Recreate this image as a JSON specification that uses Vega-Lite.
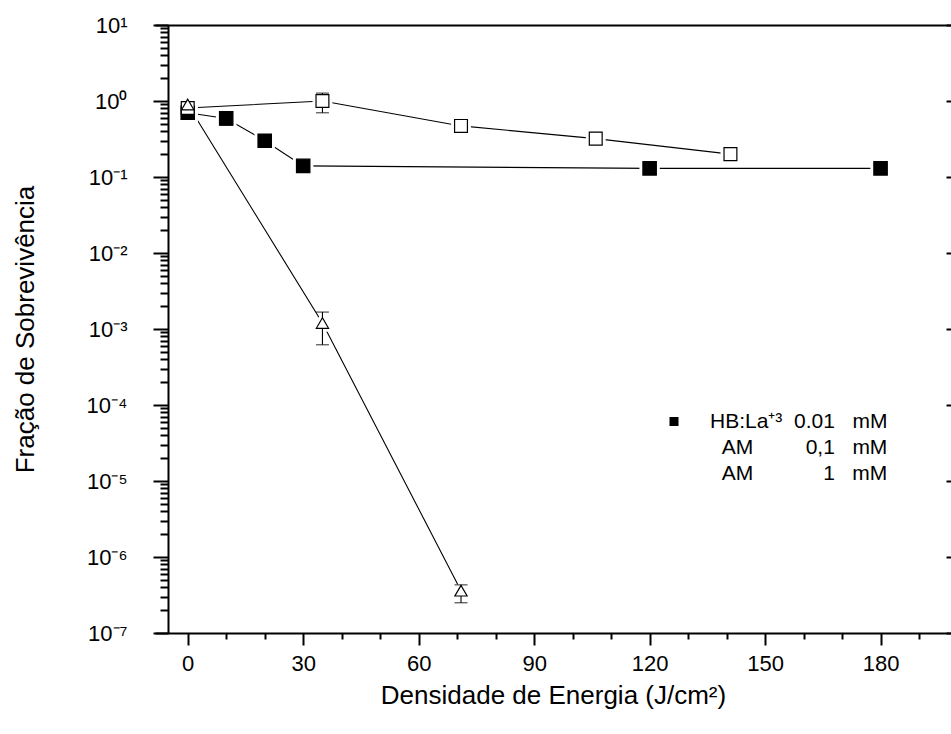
{
  "$schema": "https://vega.github.io/schema/vega-lite/v6.json",
  "width": 796,
  "height": 608,
  "autosize": {"type": "none"},
  "padding": {"left": 155, "top": 25, "right": 0, "bottom": 101},
  "config": {
    "view": {"stroke": null},
    "font": "Liberation Sans",
    "axis": {"domainColor": "black", "tickColor": "black", "labelColor": "black", "titleColor": "black", "grid": false, "labelFont": "Liberation Sans", "titleFont": "Liberation Sans", "titleFontWeight": "normal"}
  },
  "data": {
    "values": [
      {"s": "HB", "x": 0, "y": 0.70, "lo": 0.66, "hi": 0.75},
      {"s": "HB", "x": 10, "y": 0.59, "lo": 0.48, "hi": 0.66},
      {"s": "HB", "x": 20, "y": 0.30, "lo": 0.28, "hi": 0.32},
      {"s": "HB", "x": 30, "y": 0.14, "lo": 0.13, "hi": 0.15},
      {"s": "HB", "x": 120, "y": 0.13, "lo": 0.12, "hi": 0.14},
      {"s": "HB", "x": 180, "y": 0.13, "lo": 0.12, "hi": 0.14},
      {"s": "AM01", "x": 0, "y": 0.81, "lo": 0.74, "hi": 0.88},
      {"s": "AM01", "x": 35, "y": 1.0, "lo": 0.70, "hi": 1.27},
      {"s": "AM01", "x": 71, "y": 0.47, "lo": 0.39, "hi": 0.56},
      {"s": "AM01", "x": 106, "y": 0.32, "lo": 0.27, "hi": 0.38},
      {"s": "AM01", "x": 141, "y": 0.20, "lo": 0.167, "hi": 0.24},
      {"s": "AM1", "x": 0, "y": 0.90, "lo": 0.82, "hi": 0.98},
      {"s": "AM1", "x": 35, "y": 0.0012, "lo": 0.00062, "hi": 0.00167},
      {"s": "AM1", "x": 71, "y": 3.6e-7, "lo": 2.5e-7, "hi": 4.3e-7}
    ]
  },
  "layer": [
    {
      "mark": {"type": "line", "color": "black", "strokeWidth": 1.1},
      "encoding": {
        "x": {"field": "x", "type": "quantitative", "scale": {"domain": [-8.5, 198.3], "nice": false, "zero": false},
          "axis": {"orient": "bottom", "values": [0, 30, 60, 90, 120, 150, 180], "tickSize": 12, "tickWidth": 2, "domainWidth": 2, "labelFontSize": 22, "labelPadding": 8, "title": "Densidade de Energia (J/cm²)", "titleFontSize": 26, "titleY": 70, "titleBaseline": "alphabetic"}},
        "y": {"field": "y", "type": "quantitative", "scale": {"type": "log", "domain": [1e-7, 10], "nice": false},
          "axis": {"orient": "left", "offset": -13, "values": [1e-7, 1e-6, 1e-5, 1e-4, 1e-3, 1e-2, 1e-1, 1, 10], "tickSize": 15, "tickWidth": 2, "domainWidth": 2, "labelFontSize": 22, "labelPadding": 26,
            "labelExpr": "'10' + (round(log(datum.value)/LN10) < 0 ? '⁻' : '') + substring('⁰¹²³⁴⁵⁶⁷⁸⁹', abs(round(log(datum.value)/LN10)), abs(round(log(datum.value)/LN10)) + 1)",
            "title": "Fração de Sobrevivência", "titleFontSize": 26, "titleX": -135, "titleY": 304, "titleBaseline": "alphabetic", "titleAngle": 270}},
        "detail": {"field": "s"}
      }
    },
    {
      "mark": {"type": "point", "filled": true, "fill": "white", "stroke": "white", "strokeWidth": 7, "opacity": 1},
      "encoding": {
        "x": {"field": "x", "type": "quantitative", "scale": {"domain": [-8.5, 198.3], "nice": false, "zero": false},
          "axis": {"orient": "bottom", "values": [10, 20, 40, 50, 70, 80, 100, 110, 130, 140, 160, 170, 190], "tickSize": 6, "tickWidth": 2, "domain": false, "labels": false, "title": null}},
        "y": {"field": "y", "type": "quantitative", "scale": {"type": "log", "domain": [1e-7, 10], "nice": false},
          "axis": {"orient": "left", "offset": -13, "values": [2e-7, 3e-7, 4e-7, 5e-7, 6e-7, 7e-7, 8e-7, 9e-7, 2e-6, 3e-6, 4e-6, 5e-6, 6e-6, 7e-6, 8e-6, 9e-6, 2e-5, 3e-5, 4e-5, 5e-5, 6e-5, 7e-5, 8e-5, 9e-5, 2e-4, 3e-4, 4e-4, 5e-4, 6e-4, 7e-4, 8e-4, 9e-4, 0.002, 0.003, 0.004, 0.005, 0.006, 0.007, 0.008, 0.009, 0.02, 0.03, 0.04, 0.05, 0.06, 0.07, 0.08, 0.09, 0.2, 0.3, 0.4, 0.5, 0.6, 0.7, 0.8, 0.9, 2, 3, 4, 5, 6, 7, 8, 9], "tickSize": 8, "tickWidth": 2, "domain": false, "labels": false, "title": null}},
        "shape": {"field": "s", "type": "nominal", "scale": {"domain": ["HB", "AM01", "AM1"], "range": ["square", "square", "triangle-up"]}, "legend": null},
        "size": {"field": "s", "type": "nominal", "scale": {"domain": ["HB", "AM01", "AM1"], "range": [180, 150, 240]}, "legend": null}
      }
    },
    {
      "mark": {"type": "rule", "color": "black", "strokeWidth": 1.1},
      "encoding": {
        "x": {"field": "x", "type": "quantitative", "scale": {"domain": [-8.5, 198.3], "nice": false, "zero": false},
          "axis": {"orient": "top", "domainWidth": 2, "ticks": false, "labels": false, "title": null}},
        "y": {"field": "lo", "type": "quantitative", "scale": {"type": "log", "domain": [1e-7, 10], "nice": false},
          "axis": {"orient": "right", "offset": -5, "values": [1e-7, 1e-6, 1e-5, 1e-4, 1e-3, 1e-2, 1e-1, 1, 10], "tickSize": 5, "tickWidth": 2, "domain": false, "labels": false, "title": null}},
        "y2": {"field": "hi"}
      }
    },
    {
      "mark": {"type": "tick", "orient": "horizontal", "color": "black", "size": 13, "thickness": 1.2},
      "encoding": {
        "x": {"field": "x", "type": "quantitative", "scale": {"domain": [-8.5, 198.3], "nice": false, "zero": false}, "axis": null},
        "y": {"field": "lo", "type": "quantitative", "scale": {"type": "log", "domain": [1e-7, 10], "nice": false}, "axis": null}
      }
    },
    {
      "mark": {"type": "tick", "orient": "horizontal", "color": "black", "size": 13, "thickness": 1.2},
      "encoding": {
        "x": {"field": "x", "type": "quantitative", "scale": {"domain": [-8.5, 198.3], "nice": false, "zero": false}, "axis": null},
        "y": {"field": "hi", "type": "quantitative", "scale": {"type": "log", "domain": [1e-7, 10], "nice": false}, "axis": null}
      }
    },
    {
      "mark": {"type": "point", "filled": false, "opacity": 1, "stroke": "black", "strokeWidth": 1.2},
      "encoding": {
        "x": {"field": "x", "type": "quantitative", "scale": {"domain": [-8.5, 198.3], "nice": false, "zero": false}, "axis": null},
        "y": {"field": "y", "type": "quantitative", "scale": {"type": "log", "domain": [1e-7, 10], "nice": false}, "axis": null},
        "shape": {"field": "s", "type": "nominal", "scale": {"domain": ["HB", "AM01", "AM1"], "range": ["square", "square", "triangle-up"]}, "legend": null},
        "fill": {"field": "s", "type": "nominal", "scale": {"domain": ["HB", "AM01", "AM1"], "range": ["black", "white", "white"]}, "legend": null},
        "size": {"field": "s", "type": "nominal", "scale": {"domain": ["HB", "AM01", "AM1"], "range": [180, 150, 240]}, "legend": null}
      }
    },
    {
      "transform": [{"filter": "datum.x < -100"}],
      "mark": {"type": "point", "filled": true, "strokeWidth": 1.2, "size": 100},
      "encoding": {
        "x": {"field": "x", "type": "quantitative", "scale": {"domain": [-8.5, 198.3], "nice": false, "zero": false}, "axis": null},
        "y": {"field": "y", "type": "quantitative", "scale": {"type": "log", "domain": [1e-7, 10], "nice": false}, "axis": null},
        "shape": {"field": "s", "type": "nominal",
          "scale": {"domain": ["HB", "AM01", "AM1"], "range": ["M-1,0H2.4M5.6,0H8.8M3,-0.9H4.8V0.9H3Z", "M-1,0H2.4M5.6,0H8.8M3,-0.9H4.8V0.9H3Z", "M-1,0H2.4M5.6,0H8.8M3.9,-1.1L5.1,0.9L2.7,0.9Z"]},
          "legend": {"title": null, "orient": "none", "legendX": 489, "legendY": 386, "symbolSize": 100, "symbolStrokeWidth": 1.2, "symbolOpacity": 1, "labelFontSize": 21, "labelFont": "Liberation Sans", "labelColor": "black", "labelOffset": 45, "labelLimit": 400, "rowPadding": 4,
            "labelExpr": "datum.value === 'HB' ? 'HB:La⁺³\u00a0\u00a00.01\u00a0\u00a0\u00a0mM' : datum.value === 'AM01' ? '\u200b\u00a0\u00a0AM\u00a0\u00a0\u00a0\u00a0\u00a0\u00a0\u00a0\u00a0\u00a00,1\u00a0\u00a0\u00a0mM' : '\u200b\u00a0\u00a0AM\u00a0\u00a0\u00a0\u00a0\u00a0\u00a0\u00a0\u00a0\u00a0\u00a0\u00a0\u00a01\u00a0\u00a0\u00a0mM'"}},
        "fill": {"field": "s", "type": "nominal",
          "scale": {"domain": ["HB", "AM01", "AM1"], "range": ["black", "white", "white"]},
          "legend": {"title": null, "orient": "none", "legendX": 489, "legendY": 386, "symbolSize": 100, "symbolStrokeWidth": 1.2, "symbolOpacity": 1, "labelFontSize": 21, "labelFont": "Liberation Sans", "labelColor": "black", "labelOffset": 45, "labelLimit": 400, "rowPadding": 4,
            "labelExpr": "datum.value === 'HB' ? 'HB:La⁺³\u00a0\u00a00.01\u00a0\u00a0\u00a0mM' : datum.value === 'AM01' ? '\u200b\u00a0\u00a0AM\u00a0\u00a0\u00a0\u00a0\u00a0\u00a0\u00a0\u00a0\u00a00,1\u00a0\u00a0\u00a0mM' : '\u200b\u00a0\u00a0AM\u00a0\u00a0\u00a0\u00a0\u00a0\u00a0\u00a0\u00a0\u00a0\u00a0\u00a0\u00a01\u00a0\u00a0\u00a0mM'"}},
        "stroke": {"field": "s", "type": "nominal",
          "scale": {"domain": ["HB", "AM01", "AM1"], "range": ["black", "black", "black"]},
          "legend": {"title": null, "orient": "none", "legendX": 489, "legendY": 386, "symbolSize": 100, "symbolStrokeWidth": 1.2, "symbolOpacity": 1, "labelFontSize": 21, "labelFont": "Liberation Sans", "labelColor": "black", "labelOffset": 45, "labelLimit": 400, "rowPadding": 4,
            "labelExpr": "datum.value === 'HB' ? 'HB:La⁺³\u00a0\u00a00.01\u00a0\u00a0\u00a0mM' : datum.value === 'AM01' ? '\u200b\u00a0\u00a0AM\u00a0\u00a0\u00a0\u00a0\u00a0\u00a0\u00a0\u00a0\u00a00,1\u00a0\u00a0\u00a0mM' : '\u200b\u00a0\u00a0AM\u00a0\u00a0\u00a0\u00a0\u00a0\u00a0\u00a0\u00a0\u00a0\u00a0\u00a0\u00a01\u00a0\u00a0\u00a0mM'"}}
      }
    }
  ],
  "resolve": {"axis": {"x": "independent", "y": "independent"}, "scale": {"shape": "independent", "fill": "independent"}}
}
